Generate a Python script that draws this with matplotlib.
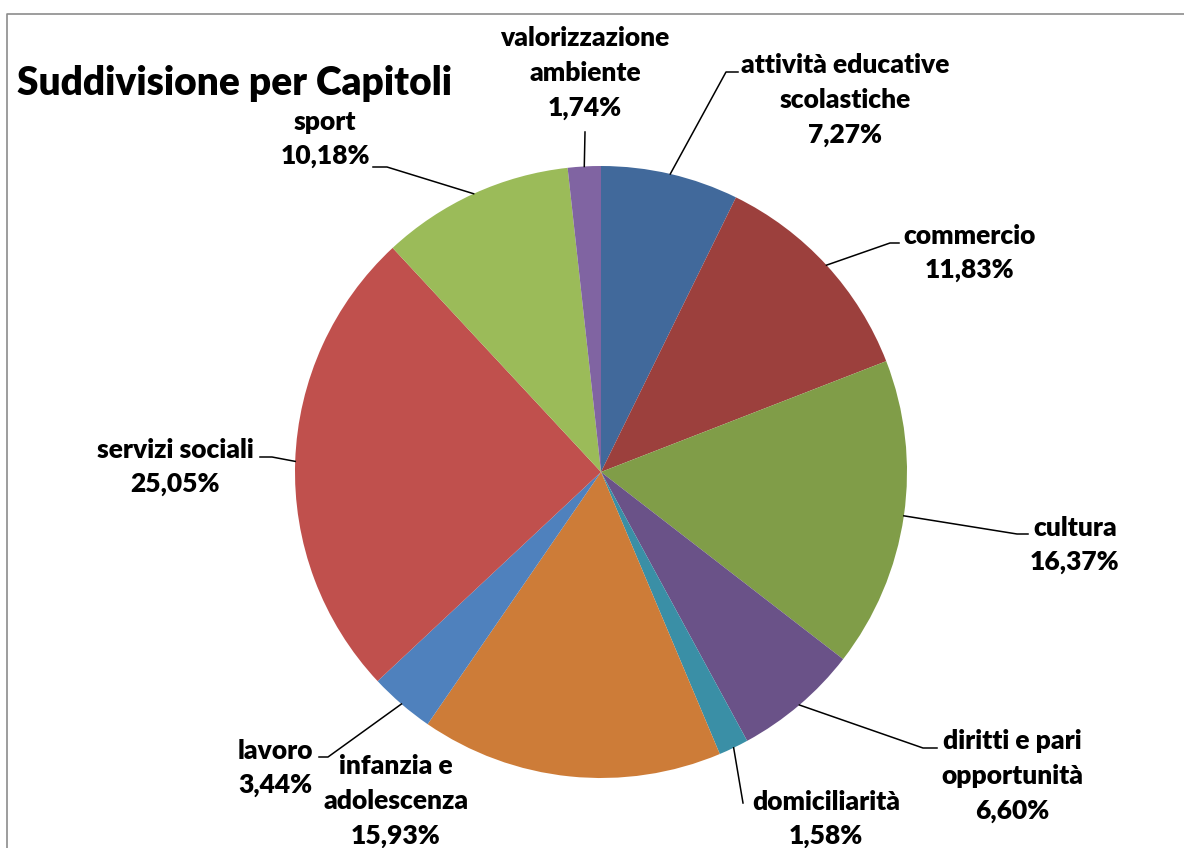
import numpy as np
import matplotlib
matplotlib.use("Agg")
import matplotlib.pyplot as plt

# ---- data ----
categories = ["attività educative\nscolastiche", "commercio", "cultura",
              "diritti e pari\nopportunità", "domiciliarità", "infanzia e\nadolescenza",
              "lavoro", "servizi sociali", "sport", "valorizzazione\nambiente"]
values = [7.27, 11.83, 16.37, 6.60, 1.58, 15.93, 3.44, 25.05, 10.18, 1.74]
colors = ["#41699B", "#9C403D", "#809D48", "#6A5288", "#3A8FA6",
          "#CD7C38", "#4F81BD", "#C0504D", "#9BBB59", "#8064A2"]
title = "Suddivisione per Capitoli"

# ---- layout (pixel coordinates, y downwards) ----
W, H = 1184, 848
center = (601, 472)
radius = 306
label_pos = [(845, 100), (970, 253), (1075, 545), (1012, 776), (826, 819),
             (396, 801), (275, 768), (175, 467), (325, 139), (585, 73)]
# leader lines: intermediate points (from label side); None = no leader
leaders = [[(738, 72), (726, 72)],
           [(899, 243), (890, 243)],
           [(1028, 534), (1017, 534)],
           [(937, 748), (923, 748)],
           [(743, 803)],
           None,
           [(319, 757), (328, 757)],
           [(260, 457), (272, 457)],
           [(373, 167), (387, 167)],
           [(585, 132)]]

plt.rcParams['font.family'] = ['Lato', 'DejaVu Sans']

fig = plt.figure(figsize=(W / 100, H / 100), dpi=100)
ax = fig.add_axes([0, 0, 1, 1])

wedges, _ = ax.pie(values, colors=colors, startangle=270, counterclock=True,
                   center=center, radius=radius, wedgeprops=dict(linewidth=0))
ax.set_xlim(0, W)
ax.set_ylim(H, 0)
ax.set_aspect('equal')
ax.axis('off')

# border (top and left visible)
ax.plot([7, 7, W], [H, 14, 14], color="#8C8C8C", lw=1.2, clip_on=False)

ax.text(17, 84, title, fontsize=28, fontweight='heavy', ha='left', va='center')

total = sum(values)
cum = 0.0
for i, (cat, v) in enumerate(zip(categories, values)):
    mid = (cum + v / 2) / total * 2 * np.pi
    cum += v
    pct = f"{v:.2f}%".replace(".", ",")
    lx, ly = label_pos[i]
    ax.text(lx, ly, f"{cat}\n{pct}", fontsize=19, fontweight='heavy',
            ha='center', va='center', multialignment='center', linespacing=1.52)
    if leaders[i] is not None:
        sx = center[0] + radius * np.sin(mid)
        sy = center[1] - radius * np.cos(mid)
        pts = leaders[i] + [(sx, sy)]
        ax.plot([p[0] for p in pts], [p[1] for p in pts], color="black", lw=1.1)

fig.savefig("out.png", dpi=100)
